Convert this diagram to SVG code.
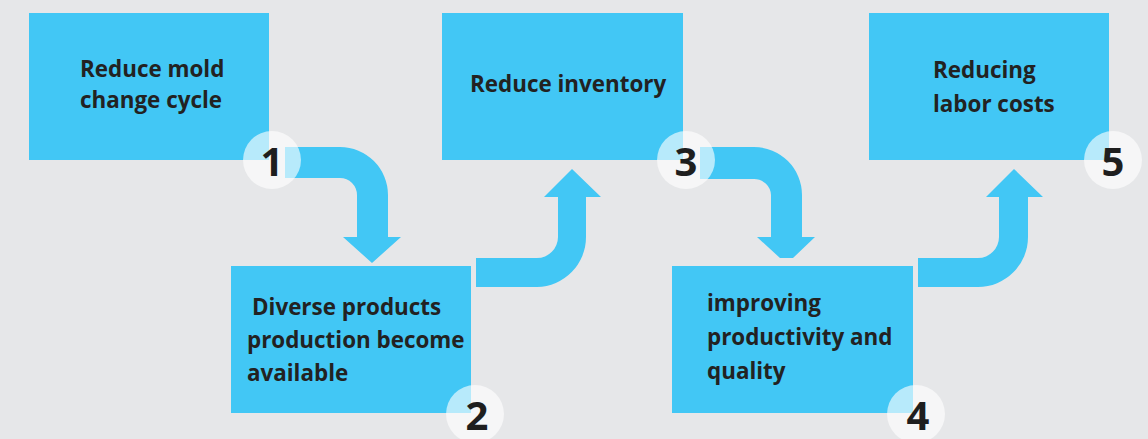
<svg xmlns="http://www.w3.org/2000/svg" width="1148" height="439" viewBox="0 0 1148 439">
<style>
.box{fill:#42C7F5}
.arrow{fill:#42C7F5}
.badge{fill:#FFFFFF;fill-opacity:0.62}
.lbl{font-family:"Open Sans","Liberation Sans",sans-serif;font-weight:bold;font-size:22.4px;fill:#222222}
.num{font-family:"Open Sans","Liberation Sans",sans-serif;font-weight:bold;font-size:40px;fill:#1E1E1E;text-anchor:middle}
</style>
<rect width="1148" height="439" fill="#E6E7E9"/>
<g id="connectors">
<path class="arrow" d="M285,147 H340 A48,48 0 0 1 388,195 V237 H401 L372,263 L343,237 H357 V195 A17,17 0 0 0 340,178 H285 Z"/>
<path class="arrow" d="M476,258 H537 A21,21 0 0 0 558,237 V197 H544 L572,169 L601,197 H586 V237 A50,50 0 0 1 537,287 H476 Z"/>
<path class="arrow" d="M700,147 H754 A48,48 0 0 1 802,195 V237 H815 L793,258 H780 L757,237 H771 V195 A17,17 0 0 0 754,179 H700 Z"/>
<path class="arrow" d="M918,258 H978 A21,21 0 0 0 999,237 V197 H986 L1014,169 L1043,197 H1028 V237 A50,50 0 0 1 978,287 H918 Z"/>
</g>
<g id="node1">
<rect class="box" x="29" y="13" width="240" height="147"/>
<text class="lbl" x="80" y="77">Reduce mold</text>
<text class="lbl" x="80" y="108">change cycle</text>
</g>
<g id="node2">
<rect class="box" x="231" y="266" width="240" height="147"/>
<text class="lbl" x="252" y="315">Diverse products</text>
<text class="lbl" x="247" y="348">production become</text>
<text class="lbl" x="247" y="381">available</text>
</g>
<g id="node3">
<rect class="box" x="442" y="13" width="241" height="147"/>
<text class="lbl" x="470" y="92">Reduce inventory</text>
</g>
<g id="node4">
<rect class="box" x="672" y="266" width="241" height="147"/>
<text class="lbl" x="707" y="311">improving</text>
<text class="lbl" x="707" y="345">productivity and</text>
<text class="lbl" x="707" y="379">quality</text>
</g>
<g id="node5">
<rect class="box" x="869" y="13" width="240" height="147"/>
<text class="lbl" x="933" y="78">Reducing</text>
<text class="lbl" x="933" y="112">labor costs</text>
</g>
<g id="badge1"><circle class="badge" cx="272" cy="160" r="29"/><text class="num" x="272" y="176">1</text></g>
<g id="badge2"><circle class="badge" cx="475" cy="414" r="29"/><text class="num" x="477" y="430">2</text></g>
<g id="badge3"><circle class="badge" cx="686" cy="160" r="29"/><text class="num" x="686" y="176">3</text></g>
<g id="badge4"><circle class="badge" cx="916" cy="414" r="29"/><text class="num" x="918" y="430">4</text></g>
<g id="badge5"><circle class="badge" cx="1113" cy="160" r="29"/><text class="num" x="1113" y="176">5</text></g>
</svg>
